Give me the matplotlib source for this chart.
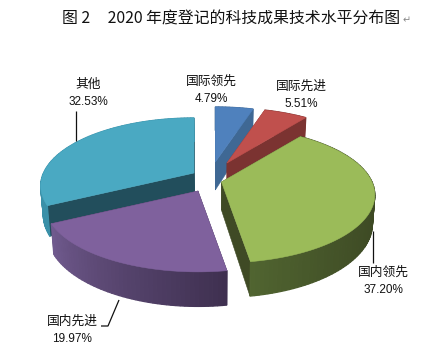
import numpy as np
import matplotlib
matplotlib.use("Agg")
import matplotlib.pyplot as plt
from matplotlib.colors import to_rgb

# ---- data ----
categories = ["国际领先", "国际先进", "国内领先", "国内先进", "其他"]
values = [4.79, 5.51, 37.20, 19.97, 32.53]
value_labels = ["4.79%", "5.51%", "37.20%", "19.97%", "32.53%"]
title_text = "图 2     2020 年度登记的科技成果技术水平分布图"

# ---- style / layout ----
top_colors = ["#4f81bd", "#c0504d", "#9bbb59", "#7f619d", "#4aa9c2"]
face_colors = ["#3f6894", "#7b3331", "#3f4a25", "#3f3050", "#224e5c"]
wall_ranges = [("#3f6894", "#3f6894"), ("#7b3331", "#7b3331"),
               ("#3a4522", "#506430"), ("#3f3050", "#705a8e"), ("#3a90a8", "#3a90a8")]
wall_gamma = [1, 1, 3, 1, 1]
apex_px = [(215.3, 162), (227, 163), (221.5, 182), (198, 191), (194, 173)]
draw_order = [0, 1, 4, 3, 2]
label_px = [(211, 81, 99), (301, 86, 104), (383, 272, 290), (72, 321, 339), (88, 84, 102)]
leaders = [[(75.5, 111), (75.5, 141)],
           [(119, 300), (108, 326), (101, 326)],
           [(372.5, 231), (372.5, 263)]]
RX, RY, K, DEPTH, SHRINK, VX = 150.5, 65.5, 0.19, 28.0, 0.985, 215.0
W, H = 437, 352

fig = plt.figure(figsize=(W / 100, H / 100), dpi=100)
ax = fig.add_axes([0, 0, 1, 1])
ax.set_xlim(0, W)
ax.set_ylim(H, 0)
ax.axis("off")

edges = np.concatenate([[0], np.cumsum(values)]) / np.sum(values) * 2 * np.pi


def project(apex, theta, lower=False):
    """Perspective projection of a rim point of an exploded slice."""
    theta = np.asarray(theta, dtype=float)
    p = 1 / (1 + K * np.cos(theta))
    x = apex[0] + RX * np.sin(theta) * p
    y = apex[1] - RY * np.cos(theta) * p
    if lower:
        x = VX + (x - VX) * SHRINK
        y = y + DEPTH * p
    return x, y


def apex_low(apex):
    return VX + (apex[0] - VX) * SHRINK, apex[1] + DEPTH


z = 1.0
for i in draw_order:
    a0, a1 = edges[i], edges[i + 1]
    apex = apex_px[i]
    th = np.linspace(a0, a1, max(int((a1 - a0) * 40), 6))
    xt, yt = project(apex, th)
    xb, yb = project(apex, th, lower=True)
    # cut faces
    lx, ly = apex_low(apex)
    for k in (0, -1):
        z += 0.01
        ax.fill([apex[0], xt[k], xb[k], lx], [apex[1], yt[k], yb[k], ly],
                color=face_colors[i], lw=0.4, zorder=z)
    # outer wall with gradient
    c0, c1 = (np.array(to_rgb(c)) for c in wall_ranges[i])
    for j in range(len(th) - 1):
        f = (j / max(len(th) - 2, 1)) ** wall_gamma[i]
        col = c0 * (1 - f) + c1 * f
        z += 0.001
        ax.fill([xt[j], xt[j + 1], xb[j + 1], xb[j]],
                [yt[j], yt[j + 1], yb[j + 1], yb[j]],
                color=col, lw=0.9, zorder=z)
    # top
    z += 0.01
    ax.fill(np.r_[apex[0], xt], np.r_[apex[1], yt],
            color=top_colors[i], lw=0.4, zorder=z)

for pts in leaders:
    xs, ys = zip(*pts)
    ax.plot(xs, ys, color="#111111", lw=0.9, zorder=50, solid_capstyle="butt")

cjk = ["Noto Sans CJK SC", "DejaVu Sans"]
for name, val, (x, y1, y2) in zip(categories, value_labels, label_px):
    ax.text(x, y1, name, ha="center", va="center", fontsize=9.2,
            family=cjk, color="#111111", zorder=60)
    ax.text(x, y2, val, ha="center", va="center", fontsize=8.5,
            family="Liberation Sans", color="#111111", zorder=60)

ax.text(62, 19, title_text, ha="left", va="center", fontsize=11.4,
        family=cjk, color="#111111", zorder=60)
ax.text(403, 20, "↵", ha="left", va="center", fontsize=7,
        family="DejaVu Sans", color="#888888", zorder=60)

fig.savefig("out.png", dpi=100)
